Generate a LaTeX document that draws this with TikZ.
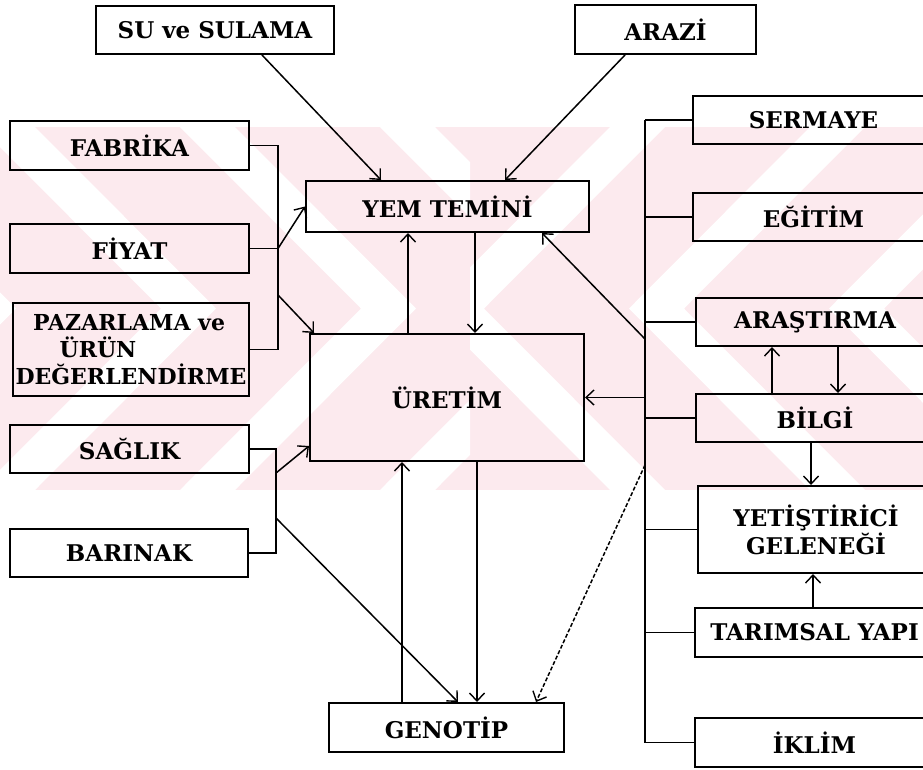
\documentclass[tikz,border=0pt]{standalone}
\usepackage{fontspec}
\setmainfont{DejaVu Serif}
\usetikzlibrary{arrows.meta}
\definecolor{wmpink}{RGB}{252,234,238}
\tikzset{
  kutu/.style={draw, rectangle, line width=2pt, inner sep=1.5pt, align=center,
    font=\bfseries\fontsize{23}{28}\selectfont},
  hat/.style={line width=1.5pt},
  ok/.style={hat, -{Straight Barb[length=8pt,width=15pt,line width=1.4pt]}}
}
\begin{document}
\begin{tikzpicture}[x=1pt,y=-1pt]
\useasboundingbox (0,0) rectangle (923,769);
\clip (0,0) rectangle (923,769);
\fill[wmpink] (0,127) rectangle (923,490);
\begin{scope}
\clip (0,127) rectangle (470,490);
\fill[white] (-220,127) -- (-165,127) -- (16,308.5) -- (-165,490) -- (-220,490) -- (-39,308.5) -- cycle;
\fill[white] (-20,127) -- (35,127) -- (216,308.5) -- (35,490) -- (-20,490) -- (161,308.5) -- cycle;
\fill[white] (180,127) -- (235,127) -- (416,308.5) -- (235,490) -- (180,490) -- (361,308.5) -- cycle;
\fill[white] (380,127) -- (435,127) -- (616,308.5) -- (435,490) -- (380,490) -- (561,308.5) -- cycle;
\end{scope}
\begin{scope}
\clip (470,127) rectangle (923,490);
\fill[white] (610,127) -- (665,127) -- (484,308.5) -- (665,490) -- (610,490) -- (429,308.5) -- cycle;
\fill[white] (810,127) -- (865,127) -- (684,308.5) -- (865,490) -- (810,490) -- (629,308.5) -- cycle;
\fill[white] (1010,127) -- (1065,127) -- (884,308.5) -- (1065,490) -- (1010,490) -- (829,308.5) -- cycle;
\end{scope}

\node[kutu, minimum width=238pt, minimum height=48pt] (su) at (215,30) {SU ve SULAMA};
\node[kutu, minimum width=181pt, minimum height=49pt] (arazi) at (665.5,29.5) {ARAZİ};
\node[kutu, minimum width=239pt, minimum height=49pt] (fabrika) at (129.5,145.5) {FABRİKA};
\node[kutu, minimum width=239pt, minimum height=49pt] (fiyat) at (129.5,248.5) {FİYAT};
\node[kutu, minimum width=236pt, minimum height=93pt, align=left,
  font=\bfseries\fontsize{22}{27}\selectfont] (pazar) at (131,349.5)
  {\hspace*{0.8em}PAZARLAMA ve\\\hspace*{2em}ÜRÜN\\DEĞERLENDİRME};
\node[kutu, minimum width=239pt, minimum height=48pt] (saglik) at (129.5,449) {SAĞLIK};
\node[kutu, minimum width=238pt, minimum height=48pt] (barinak) at (129,553) {BARINAK};
\node[kutu, minimum width=283pt, minimum height=51pt] (yem) at (447.5,206.5) {YEM TEMİNİ};
\node[kutu, minimum width=274pt, minimum height=127pt] (uretim) at (447,397.5) {ÜRETİM};
\node[kutu, minimum width=235pt, minimum height=49pt] (genotip) at (446.5,727.5) {GENOTİP};
\node[kutu, minimum width=241pt, minimum height=48pt] (sermaye) at (813.5,120) {SERMAYE};
\node[kutu, minimum width=241pt, minimum height=48pt] (egitim) at (813.5,217) {EĞİTİM};
\node[kutu, minimum width=238pt, minimum height=48pt] (arastirma) at (815,322) {ARAŞTIRMA};
\node[kutu, minimum width=238pt, minimum height=48pt] (bilgi) at (815,418) {BİLGİ};
\node[kutu, minimum width=236pt, minimum height=87pt] (gelenek) at (816,529.5) {YETİŞTİRİCİ\\GELENEĞİ};
\node[kutu, minimum width=239pt, minimum height=49pt] (tarimsal) at (814.5,632.5) {TARIMSAL YAPI};
\node[kutu, minimum width=239pt, minimum height=49pt] (iklim) at (814.5,742.5) {İKLİM};

\draw[ok] ([xshift=47pt]su.south) -- ([xshift=-66.5pt]yem.north);
\draw[ok] ([xshift=-40.5pt]arazi.south) -- ([xshift=57.5pt]yem.north);

\coordinate (sol1) at (278,0);
\coordinate (sol1b) at (278,295);
\draw[hat] (fabrika.east) -| (sol1 |- pazar.east) -- (pazar.east);
\draw[hat] (fiyat.east) -- (sol1 |- fiyat.east);
\draw[ok] (sol1 |- fiyat.east) -- (yem.west);
\draw[ok] (sol1b) -- ([xshift=5pt]uretim.north west);

\coordinate (sol2) at (276,0);
\coordinate (sol2a) at (276,473);
\coordinate (sol2b) at (276,518);
\draw[hat] (saglik.east) -| (sol2 |- barinak.east) -- (barinak.east);
\draw[ok] (sol2a) -- ([yshift=16pt]uretim.south west);
\draw[ok] (sol2b) -- ([xshift=11.5pt]genotip.north);

\draw[ok] ([xshift=-39pt]uretim.north) -- ([xshift=-39.5pt]yem.south);
\draw[ok] ([xshift=27.5pt]yem.south) -- ([xshift=28pt]uretim.north);
\draw[ok] ([xshift=-44.5pt]genotip.north) -- ([xshift=-45pt]uretim.south);
\draw[ok] ([xshift=30pt]uretim.south) -- ([xshift=30.5pt]genotip.north);

\coordinate (sag) at (645,0);
\coordinate (sagA) at (645,339);
\coordinate (sagB) at (645,465);
\draw[hat] (sag |- sermaye.west) -- (sag |- iklim.west);
\draw[hat] (sermaye.west) -- (sag |- sermaye.west);
\draw[hat] (egitim.west) -- (sag |- egitim.west);
\draw[hat] (arastirma.west) -- (sag |- arastirma.west);
\draw[hat] (bilgi.west) -- (sag |- bilgi.west);
\draw[hat] (gelenek.west) -- (sag |- gelenek.west);
\draw[hat] (tarimsal.west) -- (sag |- tarimsal.west);
\draw[hat] (iklim.west) -- (sag |- iklim.west);
\draw[ok] (sag |- uretim.east) -- (uretim.east);
\draw[ok] (sagA) -- ([xshift=-48pt]yem.south east);
\draw[ok, dash pattern=on 4pt off 2pt] (sagB) -- ([xshift=-29pt]genotip.north east);

\draw[ok] ([xshift=-43pt]bilgi.north) -- ([xshift=-43pt]arastirma.south);
\draw[ok] ([xshift=23pt]arastirma.south) -- ([xshift=23pt]bilgi.north);
\draw[ok] ([xshift=-4pt]bilgi.south) -- ([xshift=-5pt]gelenek.north);
\draw[ok] ([xshift=-1.5pt]tarimsal.north) -- ([xshift=-3pt]gelenek.south);
\end{tikzpicture}
\end{document}
